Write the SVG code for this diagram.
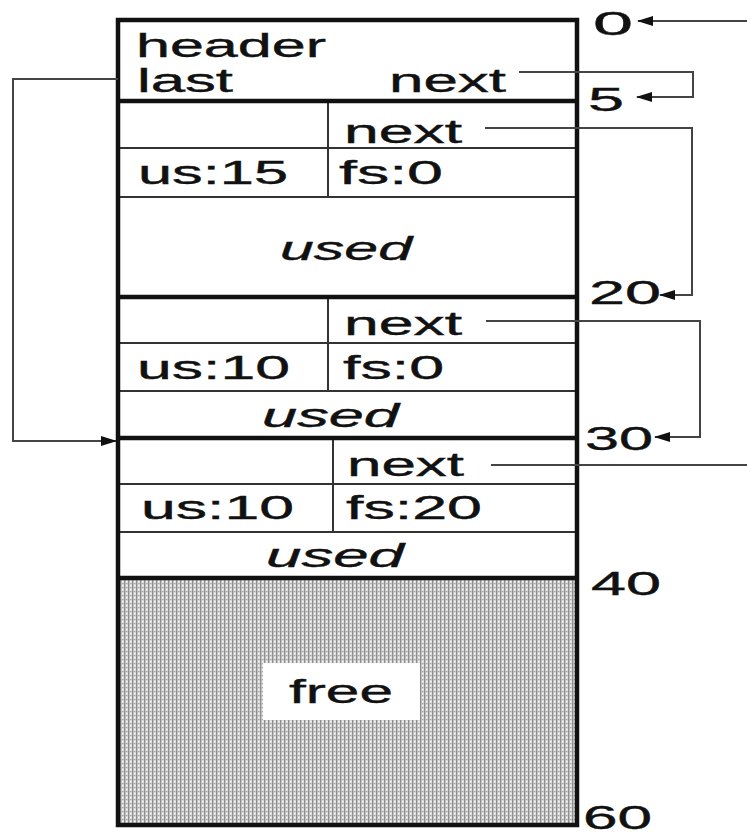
<svg xmlns="http://www.w3.org/2000/svg" width="747" height="837" viewBox="0 0 747 837">
<style>
text{font-family:"Liberation Sans",Arial,sans-serif;font-size:34px;fill:#111;stroke:#111;stroke-width:0.4}
.it{font-style:italic}
.thick{stroke:#111;stroke-width:4.5;fill:none}
.thin{stroke:#333;stroke-width:2;fill:none}
.conn{stroke:#444;stroke-width:2;fill:none}
</style>
<defs>
<marker id="ah" markerWidth="16" markerHeight="10" refX="15" refY="5" orient="auto" markerUnits="userSpaceOnUse">
<path d="M0,0 L16,5 L0,10 Z" fill="#111"/>
</marker>
<pattern id="dots" width="4" height="4" patternUnits="userSpaceOnUse">
<rect width="4" height="4" fill="#d4d4d4"/>
<rect x="0" y="0" width="1.3" height="4" fill="#8e8e8e"/>
<rect x="2" y="1" width="1.5" height="1.5" fill="#f6f6f6"/>
<rect x="2" y="3" width="1.5" height="1" fill="#a8a8a8"/>
</pattern>
</defs>

<g id="free">
<rect x="118" y="578" width="459" height="247" fill="url(#dots)"/>
<rect x="263" y="663" width="157" height="57" fill="#fff"/>
<text x="289" y="703" textLength="104" lengthAdjust="spacingAndGlyphs">free</text>
</g>

<g id="header">
<text x="136" y="57" textLength="190" lengthAdjust="spacingAndGlyphs">header</text>
<text x="137" y="92" textLength="96" lengthAdjust="spacingAndGlyphs">last</text>
<text x="389" y="92" textLength="117" lengthAdjust="spacingAndGlyphs">next</text>
</g>

<g id="block1">
<line class="thin" x1="328" y1="101" x2="328" y2="197"/>
<line class="thin" x1="118" y1="148" x2="577" y2="148"/>
<line class="thin" x1="118" y1="197" x2="577" y2="197"/>
<text x="344" y="143" textLength="118" lengthAdjust="spacingAndGlyphs">next</text>
<text x="138" y="184" textLength="150" lengthAdjust="spacingAndGlyphs">us:15</text>
<text x="339" y="184" textLength="104" lengthAdjust="spacingAndGlyphs">fs:0</text>
<text class="it" x="280" y="260" textLength="132" lengthAdjust="spacingAndGlyphs">used</text>
</g>

<g id="block2">
<line class="thin" x1="328" y1="297" x2="328" y2="391"/>
<line class="thin" x1="118" y1="343" x2="577" y2="343"/>
<line class="thin" x1="118" y1="391" x2="577" y2="391"/>
<text x="344" y="335" textLength="118" lengthAdjust="spacingAndGlyphs">next</text>
<text x="137" y="379" textLength="153" lengthAdjust="spacingAndGlyphs">us:10</text>
<text x="343" y="379" textLength="101" lengthAdjust="spacingAndGlyphs">fs:0</text>
<text class="it" x="262" y="427" textLength="137" lengthAdjust="spacingAndGlyphs">used</text>
</g>

<g id="block3">
<line class="thin" x1="333" y1="438" x2="333" y2="532"/>
<line class="thin" x1="120" y1="484" x2="577" y2="484"/>
<line class="thin" x1="120" y1="532" x2="577" y2="532"/>
<text x="347" y="476" textLength="117" lengthAdjust="spacingAndGlyphs">next</text>
<text x="141" y="519" textLength="153" lengthAdjust="spacingAndGlyphs">us:10</text>
<text x="346" y="519" textLength="136" lengthAdjust="spacingAndGlyphs">fs:20</text>
<text class="it" x="266" y="567" textLength="138" lengthAdjust="spacingAndGlyphs">used</text>
</g>

<g id="frame">
<path class="thick" d="M118,20 H577 V825 H118 Z"/>
<line class="thick" x1="118" y1="101" x2="577" y2="101"/>
<line class="thick" x1="118" y1="297" x2="577" y2="297"/>
<line class="thick" x1="116" y1="438" x2="577" y2="438"/>
<line class="thick" x1="116" y1="578" x2="577" y2="578"/>
</g>

<g id="offsets">
<text x="593" y="35" textLength="40" lengthAdjust="spacingAndGlyphs">0</text>
<text x="588" y="111" textLength="36" lengthAdjust="spacingAndGlyphs">5</text>
<text x="589" y="304" textLength="72" lengthAdjust="spacingAndGlyphs">20</text>
<text x="585" y="450" textLength="68" lengthAdjust="spacingAndGlyphs">30</text>
<text x="591" y="595" textLength="70" lengthAdjust="spacingAndGlyphs">40</text>
<text x="583" y="829" textLength="69" lengthAdjust="spacingAndGlyphs">60</text>
</g>

<g id="connectors">
<path class="conn" d="M747,21 H638" marker-end="url(#ah)"/>
<path class="conn" d="M519,72 H693 V97 H637" marker-end="url(#ah)"/>
<path class="conn" d="M485,128 H692 V295 H660" marker-end="url(#ah)"/>
<path class="conn" d="M486,321 H700 V437 H655" marker-end="url(#ah)"/>
<path class="conn" d="M491,465 H747"/>
<path class="conn" d="M118,79 H13 V441 H116" marker-end="url(#ah)"/>
</g>
</svg>
